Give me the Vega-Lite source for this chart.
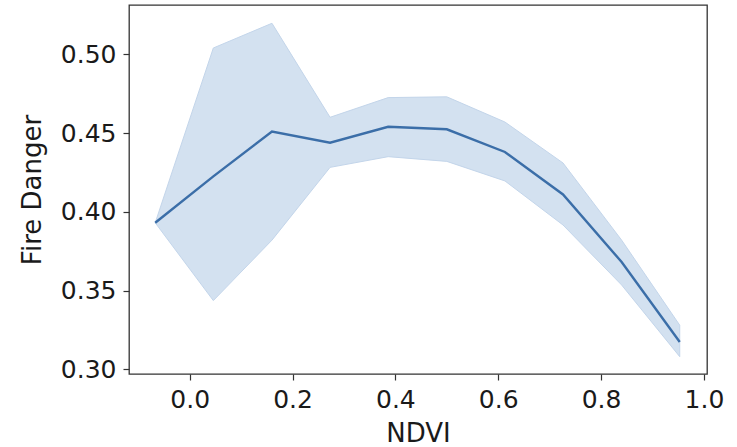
{
  "$schema": "https://vega.github.io/schema/vega-lite/v6.json",
  "autosize": "none",
  "width": 578,
  "height": 369,
  "padding": {"left": 129, "top": 5, "right": 30, "bottom": 73},
  "background": "white",
  "config": {
    "view": {"stroke": "#333333", "strokeWidth": 1.3},
    "font": "DejaVu Sans",
    "axis": {
      "domain": false,
      "grid": false,
      "ticks": true,
      "tickColor": "#333333",
      "tickSize": 6,
      "tickWidth": 1.2,
      "labelFont": "DejaVu Sans",
      "labelFontSize": 25,
      "labelColor": "#1a1a1a",
      "labelPadding": 7,
      "titleFont": "DejaVu Sans",
      "titleFontSize": 26,
      "titleFontWeight": "normal",
      "titleColor": "#1a1a1a"
    }
  },
  "data": {
    "values": [
      {"ndvi": -0.067, "mean": 0.393, "lo": 0.393, "hi": 0.393},
      {"ndvi": 0.046, "mean": 0.4225, "lo": 0.3436, "hi": 0.504},
      {"ndvi": 0.160, "mean": 0.4509, "lo": 0.382, "hi": 0.5197},
      {"ndvi": 0.273, "mean": 0.4439, "lo": 0.4282, "hi": 0.460},
      {"ndvi": 0.386, "mean": 0.454, "lo": 0.435, "hi": 0.4725},
      {"ndvi": 0.500, "mean": 0.4524, "lo": 0.432, "hi": 0.473},
      {"ndvi": 0.613, "mean": 0.438, "lo": 0.4196, "hi": 0.457},
      {"ndvi": 0.726, "mean": 0.411, "lo": 0.3916, "hi": 0.431},
      {"ndvi": 0.840, "mean": 0.3681, "lo": 0.3535, "hi": 0.382},
      {"ndvi": 0.953, "mean": 0.3173, "lo": 0.308, "hi": 0.328}
    ]
  },
  "encoding": {
    "x": {
      "field": "ndvi",
      "type": "quantitative",
      "title": "NDVI",
      "scale": {"domain": [-0.118, 1.006], "nice": false, "zero": false},
      "axis": {"values": [0, 0.2, 0.4, 0.6, 0.8, 1.0], "format": ".1f", "titlePadding": 8}
    }
  },
  "layer": [
    {
      "mark": {"type": "area", "color": "#d3e1f0", "stroke": "#c3d5ea", "strokeWidth": 1, "opacity": 1},
      "encoding": {
        "y": {
          "field": "lo",
          "type": "quantitative",
          "title": "Fire Danger",
          "scale": {"domain": [0.297, 0.5313], "nice": false, "zero": false},
          "axis": {"values": [0.30, 0.35, 0.40, 0.45, 0.50], "format": ".2f", "titlePadding": 15}
        },
        "y2": {"field": "hi"}
      }
    },
    {
      "mark": {"type": "line", "color": "#3b6ea8", "strokeWidth": 2.4},
      "encoding": {
        "y": {"field": "mean", "type": "quantitative"}
      }
    }
  ]
}
